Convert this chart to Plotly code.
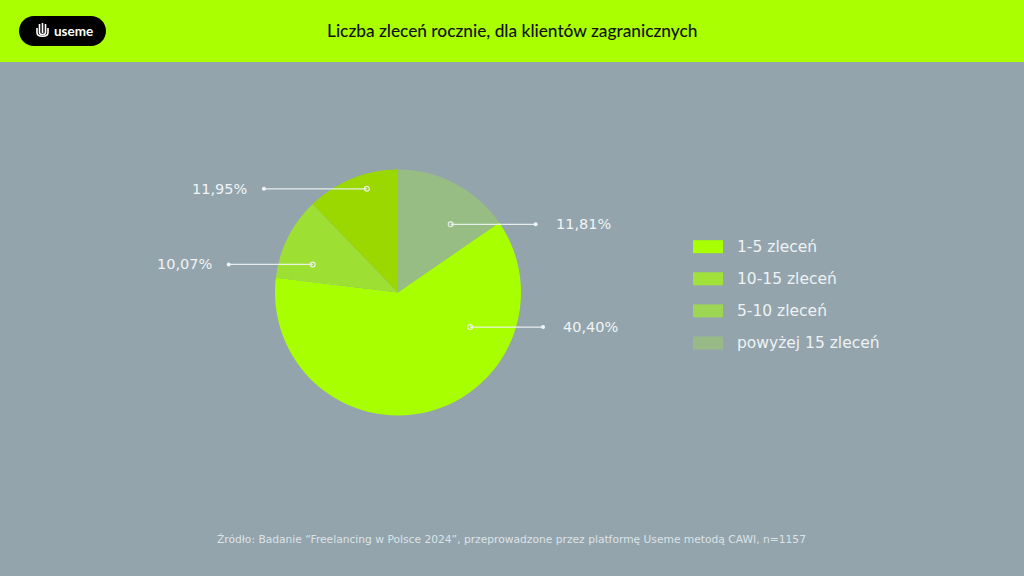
import math
import plotly.graph_objects as go

W, H = 1024, 576

# ---- data ----
categories = ["powyżej 15 zleceń", "1-5 zleceń", "5-10 zleceń", "10-15 zleceń"]  # clockwise from 12 o'clock
slice_shares = [15.4, 61.5, 10.9, 12.2]          # visual share of each slice (%)
label_texts = ["11,81%", "40,40%", "10,07%", "11,95%"]
slice_colors = ["#97BD84", "#A8FF00", "#9EDF33", "#9AD800"]

legend_order = ["1-5 zleceń", "10-15 zleceń", "5-10 zleceń", "powyżej 15 zleceń"]
legend_colors = ["#A8FF00", "#A0E23A", "#9DD654", "#97BA86"]

title_text = "Liczba zleceń rocznie, dla klientów zagranicznych"
source_text = "Źródło: Badanie “Freelancing w Polsce 2024”, przeprowadzone przez platformę Useme metodą CAWI, n=1157"

# ---- layout helpers (pixels -> paper) ----
def px(x):
    return x / W

def py(y):
    return 1 - y / H

BG = "#93A4AD"
HEADER = "#AAFF00"
cx, cy, R = 398, 292.5, 123

fig = go.Figure()
fig.add_trace(go.Pie(
    labels=categories, values=slice_shares, sort=False, direction="clockwise",
    rotation=0, marker=dict(colors=slice_colors, line=dict(width=0)),
    textinfo="none", hoverinfo="label+percent", showlegend=False,
    domain=dict(x=[px(cx - R), px(cx + R)], y=[py(cy + R), py(cy - R)]),
))

shapes = []
annotations = []

# header band
shapes.append(dict(type="rect", xref="paper", yref="paper", x0=0, x1=1, y0=py(62), y1=1,
                   fillcolor=HEADER, line=dict(width=0), layer="below"))

# logo pill (drawn with bezier curves, in paper coords)
def pill_path(x0, y0, x1, y1):
    r = (y1 - y0) / 2
    k = 0.5523 * r
    pts = []
    pts.append(f"M{px(x0 + r)},{py(y0)}")
    pts.append(f"L{px(x1 - r)},{py(y0)}")
    pts.append(f"C{px(x1 - r + k)},{py(y0)} {px(x1)},{py(y0 + r - k)} {px(x1)},{py(y0 + r)}")
    pts.append(f"C{px(x1)},{py(y0 + r + k)} {px(x1 - r + k)},{py(y1)} {px(x1 - r)},{py(y1)}")
    pts.append(f"L{px(x0 + r)},{py(y1)}")
    pts.append(f"C{px(x0 + r - k)},{py(y1)} {px(x0)},{py(y0 + r + k)} {px(x0)},{py(y0 + r)}")
    pts.append(f"C{px(x0)},{py(y0 + r - k)} {px(x0 + r - k)},{py(y0)} {px(x0 + r)},{py(y0)} Z")
    return " ".join(pts)

shapes.append(dict(type="path", xref="paper", yref="paper", path=pill_path(19, 16, 106, 46),
                   fillcolor="#000000", line=dict(width=0)))

# logo icon: nested U strokes
def u_path(xl, xr, ytop, ybot):
    k = (xr - xl) / 2 * 0.9
    return (f"M{px(xl)},{py(ytop)} L{px(xl)},{py(ybot - (xr - xl) / 2)} "
            f"C{px(xl)},{py(ybot - (xr-xl)/2 + k)} {px(xr)},{py(ybot - (xr-xl)/2 + k)} {px(xr)},{py(ybot - (xr - xl) / 2)} "
            f"L{px(xr)},{py(ytop)}")

for (xl, xr, yt, yb) in [(37, 48, 28, 38), (39.5, 45.5, 24, 35.5), (42.5, 42.5, 23, 33)]:
    if xl == xr:
        shapes.append(dict(type="line", xref="paper", yref="paper", x0=px(xl), x1=px(xr),
                           y0=py(yt), y1=py(yb), line=dict(color="white", width=1.6)))
    else:
        shapes.append(dict(type="path", xref="paper", yref="paper", path=u_path(xl, xr, yt, yb),
                           line=dict(color="white", width=1.6)))

annotations.append(dict(x=px(52), y=py(31), xref="paper", yref="paper", xanchor="left",
                        yanchor="middle", text="<b>useme</b>", showarrow=False,
                        font=dict(family="Lato", size=13.5, color="white")))

# title
annotations.append(dict(x=px(512), y=py(31), xref="paper", yref="paper", xanchor="center",
                        yanchor="middle", text=title_text, showarrow=False,
                        font=dict(family="Lato", size=17.3, color="#111111", weight=500)))

# ---- slice labels with leader lines ----
# per-label placement: (angle inside slice as fraction of slice span, radial fraction, line length, side)
label_style = [
    (0.68, 0.70, 85, "right"),
    (0.272, 0.65, 73, "right"),
    (0.29, 0.73, 84, "left"),
    (0.62, 0.88, 103, "left"),
]
total = sum(slice_shares)
start = 0.0
line_col = "rgba(240,244,246,0.9)"
for share, txt, (frac, rf, ln, side) in zip(slice_shares, label_texts, label_style):
    span = share / total * 360
    ang = math.radians(start + frac * span)
    start += span
    ix = cx + rf * R * math.sin(ang)
    iy = cy - rf * R * math.cos(ang)
    ox = ix + ln if side == "right" else ix - ln
    shapes.append(dict(type="line", xref="paper", yref="paper", x0=px(ix), x1=px(ox),
                       y0=py(iy), y1=py(iy), line=dict(color=line_col, width=1.2)))
    r1 = 2.4
    shapes.append(dict(type="circle", xref="paper", yref="paper",
                       x0=px(ix - r1), x1=px(ix + r1), y0=py(iy + r1), y1=py(iy - r1),
                       fillcolor="rgba(0,0,0,0)", line=dict(color=line_col, width=1.2)))
    r2 = 2.0
    shapes.append(dict(type="circle", xref="paper", yref="paper",
                       x0=px(ox - r2), x1=px(ox + r2), y0=py(iy + r2), y1=py(iy - r2),
                       fillcolor="#F0F4F6", line=dict(width=0)))
    tx = ox + 18 if side == "right" else ox - 15
    annotations.append(dict(x=px(tx), y=py(iy), xref="paper", yref="paper",
                            xanchor="left" if side == "right" else "right", yanchor="middle",
                            text=txt, showarrow=False,
                            font=dict(family="DejaVu Sans", size=14.5, color="#F0F4F6")))

# ---- legend (manual) ----
for i, (name, col) in enumerate(zip(legend_order, legend_colors)):
    yc = 246.7 + i * 32.1
    shapes.append(dict(type="rect", xref="paper", yref="paper", x0=px(693), x1=px(723),
                       y0=py(yc + 6.5), y1=py(yc - 6.5), fillcolor=col, line=dict(width=0)))
    annotations.append(dict(x=px(735), y=py(yc), xref="paper", yref="paper", xanchor="left",
                            yanchor="middle", text=name, showarrow=False,
                            font=dict(family="DejaVu Sans", size=15.5, color="#EEF2F4")))

# source
annotations.append(dict(x=px(511), y=py(539), xref="paper", yref="paper", xanchor="center",
                        yanchor="middle", text=source_text, showarrow=False,
                        font=dict(family="DejaVu Sans", size=10.7, color="#DCE3E7")))

fig.update_layout(
    width=W, height=H, margin=dict(l=0, r=0, t=0, b=0),
    paper_bgcolor=BG, plot_bgcolor=BG,
    shapes=shapes, annotations=annotations, showlegend=False,
)

fig.write_html("out.html", config={"displayModeBar": False})
